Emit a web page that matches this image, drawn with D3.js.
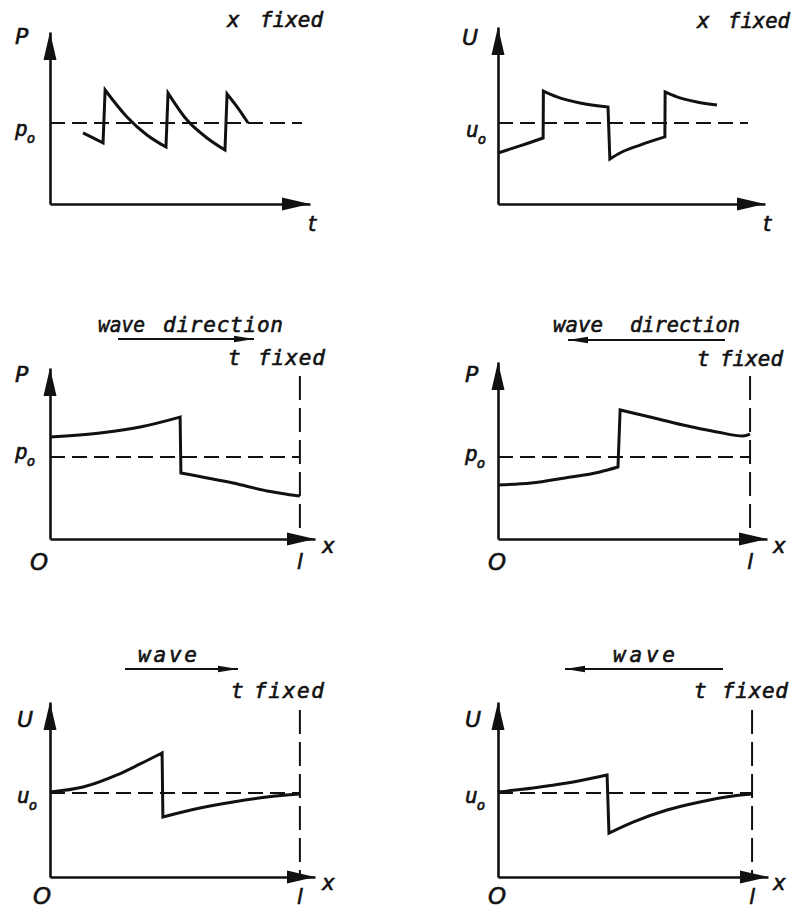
<!DOCTYPE html>
<html><head><meta charset="utf-8">
<script src="https://cdn.jsdelivr.net/npm/d3@7"></script>
<style>
html,body{margin:0;padding:0;background:#fff;}
svg{display:block;}
text{font-family:"DejaVu Sans Mono","DejaVu Sans",monospace;font-style:italic;fill:#111;stroke:#111;stroke-width:0.6px;white-space:pre;}
text.sym{font-family:"DejaVu Sans",sans-serif;}
</style></head><body>
<svg id="c" width="796" height="910"></svg>
<script>
// ---------- DATA (normalized units: axis origin = 0, axis arrow tip = 100) ----------
// each curve = list of smooth segments; consecutive segments are joined by straight jumps
const curveP_xfixed = [
  [[12.7,41.3],[20.4,35.5]],
  [[21.2,66.3],[29.6,50.6],[37.3,40.1],[44.6,33.1]],
  [[45.4,64.5],[52.7,48.8],[60.4,38.4],[67.3,31.4]],
  [[68.1,64.0],[72.3,55.8],[76.2,47.1]]
];
const curveU_xfixed = [
  [[0,28.8],[8.2,32.8],[16.9,37.3]],
  [[17.0,63.8],[22.1,60.5],[30.7,57.1],[41.2,54.8]],
  [[41.9,25.4],[45.7,28.8],[53.2,33.3],[62.5,37.9]],
  [[62.6,63.3],[67.0,60.5],[74.5,57.6],[82.0,55.9]]
];
const curveP_right = [
  [[0,59.6],[18.9,62.0],[34.0,65.5],[49.1,71.3]],
  [[49.4,38.6],[69.1,32.7],[81.9,28.1],[94.3,25.1]]
];
const curveP_left = [
  [[0,30.5],[12.3,31.6],[24.9,34.5],[37.9,37.9],[44.6,40.7]],
  [[45.4,72.9],[56.5,68.9],[68.8,64.4],[81.4,60.5],[91.1,58.2],[93.7,59.3]]
];
const curveU_right = [
  [[0,48.6],[12.5,51.4],[25.3,58.3],[34.0,64.6],[42.3,70.9]],
  [[42.6,34.3],[56.6,39.4],[69.1,42.9],[81.9,45.7],[94.3,47.4]]
];
const curveU_left = [
  [[0,48.6],[13.0,50.9],[25.6,53.7],[40.4,58.3]],
  [[41.1,25.1],[50.0,31.4],[62.6,38.3],[74.8,42.9],[87.0,46.3],[94.1,47.4]]
];
const curves = [curveP_xfixed, curveU_xfixed, curveP_right, curveP_left, curveU_right, curveU_left];
const refLevels = [47.1, 45.8, 48.0, 46.3, 48.0, 48.0];   // p0 / u0 levels
const refEnds   = [96.9, 93.6, 94.3, 93.7, 94.3, 94.1];   // end of dashed reference line
const lMarkX    = [null, null, 94.3, 93.7, 94.3, 94.1];   // x = l
const lMarkTop  = [null, null, 95.3, 92.1, 95.4, 95.4];
const yLabels   = ["P", "U", "P", "P", "U", "U"];
const refLabels = ["p", "u", "p", "p", "u", "u"];
const xLabels   = ["t", "t", "x", "x", "x", "x"];
const noteWords = [["x","fixed"],["x","fixed"],["t","fixed"],["t","fixed"],["t","fixed"],["t","fixed"]];
const waveWords = [null, null, ["wave","direction"], ["wave","direction"], ["wave"], ["wave"]];
const waveDirs  = [0, 0, 1, -1, 1, -1];

// ---------- LAYOUT ----------
const layout = [
  {ox:50,  oy:204, w:260, h:172, yLab:[15,44],  ref:[15,136], note:[[227,null],[260,63]], nb:27, xl:[308,231]},
  {ox:498, oy:204, w:267, h:177, yLab:[462,45], ref:[466,137], note:[[697,null],[728,62]], nb:28, xl:[763,231]},
  {ox:50,  oy:539, w:265, h:171, yLab:[15,382], ref:[15,459], note:[[228,null],[258,67]], nb:365, xl:[322,553], O:[30,570], l:569,
   wave:[[98,47],[163,120]], wb:332, arr:[118,254,339]},
  {ox:498, oy:539, w:269, h:177, yLab:[465,382], ref:[465,461], note:[[697,null],[720,63]], nb:366, xl:[773,553], O:[488,570], l:569,
   wave:[[553,50],[630,110]], wb:332, arr:[568,725,340]},
  {ox:50,  oy:877, w:265, h:175, yLab:[17,727], ref:[17,803], note:[[231,null],[254,70]], nb:698, xl:[322,890], O:[33,904], l:904,
   wave:[[138,59]], wb:662, arr:[125,238,669]},
  {ox:498, oy:877, w:270, h:175, yLab:[465,727], ref:[465,803], note:[[694,null],[722,66]], nb:698, xl:[773,890], O:[488,904], l:904,
   wave:[[613,62]], wb:662, arr:[565,723,669]}
];

const svg = d3.select("#c");
svg.append("rect").attr("width",796).attr("height",910).attr("fill","#fff");
const ink = "#111";

function arrowHead(g, tipX, tipY, dir, len, hw){
  let pts;
  if(dir==="up") pts=[[tipX,tipY],[tipX-hw,tipY+len],[tipX+hw,tipY+len]];
  else if(dir==="right") pts=[[tipX,tipY],[tipX-len,tipY-hw],[tipX-len,tipY+hw]];
  else pts=[[tipX,tipY],[tipX+len,tipY-hw],[tipX+len,tipY+hw]];
  g.append("path").attr("d","M"+pts.map(p=>p.join(",")).join("L")+"Z").attr("fill",ink);
}
function word(g, x0, yb, txt, len, size, cls){
  const t = g.append("text").attr("x",x0).attr("y",yb).attr("font-size",size).text(txt);
  if(cls) t.attr("class",cls);
  if(len){
    const nat = t.node().getComputedTextLength();
    t.attr("textLength",len).attr("lengthAdjust", nat > len ? "spacingAndGlyphs" : "spacing");
  }
  return t;
}

layout.forEach((L,i)=>{
  const g = svg.append("g");
  const x = d3.scaleLinear().domain([0,100]).range([L.ox, L.ox+L.w]);
  const y = d3.scaleLinear().domain([0,100]).range([L.oy, L.oy-L.h]);

  // reference dashed line
  g.append("line").attr("x1",x(0)).attr("x2",x(refEnds[i]))
    .attr("y1",y(refLevels[i])).attr("y2",y(refLevels[i]))
    .attr("stroke",ink).attr("stroke-width",2).attr("stroke-dasharray","15,7");

  // x = l dashed marker
  if(lMarkX[i]!==null){
    g.append("line").attr("x1",x(lMarkX[i])).attr("x2",x(lMarkX[i]))
      .attr("y1",y(lMarkTop[i])).attr("y2",y(0))
      .attr("stroke",ink).attr("stroke-width",2).attr("stroke-dasharray","24,8");
  }

  // axes via d3.axis (no ticks)
  const ax = g.append("g").attr("transform",`translate(0,${L.oy})`)
    .call(d3.axisBottom(x).tickValues([]).tickSizeOuter(0));
  const ay = g.append("g").attr("transform",`translate(${L.ox},0)`)
    .call(d3.axisLeft(y).tickValues([]).tickSizeOuter(0));
  [ax,ay].forEach(a=>a.select(".domain").attr("stroke",ink).attr("stroke-width",2.6));
  arrowHead(g, x(100), y(0), "right", 28, 6.5);
  arrowHead(g, x(0), y(100), "up", 28, 6.5);

  // curve
  const line = d3.line().x(d=>x(d[0])).y(d=>y(d[1])).curve(d3.curveMonotoneX);
  const d = curves[i].map((seg,k)=>{ const s=line(seg); return k? "L"+s.slice(1): s; }).join("");
  g.append("path").attr("d",d).attr("fill","none").attr("stroke",ink)
    .attr("stroke-width",3).attr("stroke-linejoin","miter");

  // labels
  word(g, L.yLab[0], L.yLab[1], yLabels[i], null, 22, "sym");
  const rt = g.append("text").attr("x",L.ref[0]).attr("y",L.ref[1]).attr("font-size",21);
  rt.append("tspan").text(refLabels[i]);
  rt.append("tspan").attr("font-size",14).attr("dy",7).attr("dx",-1).text("o");
  noteWords[i].forEach((w,k)=> word(g, L.note[k][0], L.nb, w, L.note[k][1], 21));
  word(g, L.xl[0], L.xl[1], xLabels[i], null, 21, "sym");
  if(L.O){
    word(g, L.O[0], L.O[1], "O", null, 23, "sym");
    g.append("text").attr("class","sym").attr("x",x(lMarkX[i])).attr("y",L.l).attr("text-anchor","middle")
      .attr("font-size",21).text("l");
  }
  if(waveWords[i]){
    waveWords[i].forEach((w,k)=> word(g, L.wave[k][0], L.wb, w, L.wave[k][1], 21));
    const [a0,a1,ay0] = L.arr;
    g.append("line").attr("x1",a0).attr("x2",a1).attr("y1",ay0).attr("y2",ay0)
      .attr("stroke",ink).attr("stroke-width",1.8);
    if(waveDirs[i]>0) arrowHead(g, a1, ay0, "right", 20, 3.2);
    else arrowHead(g, a0, ay0, "left", 20, 3.2);
  }
});
</script>
</body></html>
